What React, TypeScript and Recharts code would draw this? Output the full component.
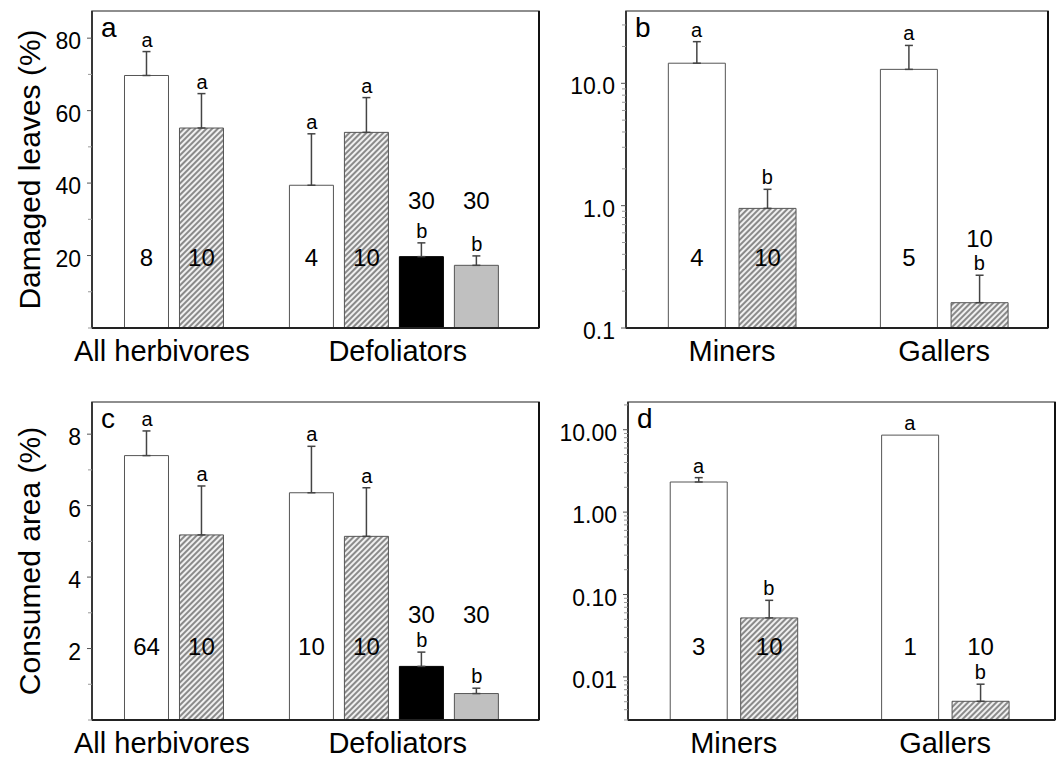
import React from 'react';
import { ComposedChart, Bar, Line, XAxis, YAxis, ErrorBar, LabelList, Cell, ReferenceArea, ReferenceLine } from 'recharts';

const FONT = '"Liberation Sans", Arial, Helvetica, sans-serif';

// ---------- shared categories ----------
const kindsAC = ['open', 'hatched', 'open', 'hatched', 'black', 'grey'];
const posAC = [1, 2, 4, 5, 6, 7];
const groupLabelsAC = ['All herbivores', 'Defoliators'];
const groupTicksAC = [1.27, 5.56];

const kindsBD = ['open', 'hatched', 'open', 'hatched'];
const posBD = [1, 2, 4, 5];
const groupLabelsBD = ['Miners', 'Gallers'];
const groupTicksBD = [1.5, 4.5];

const lettersAC = ['a', 'a', 'a', 'a', 'b', 'b'];
const lettersBD = ['a', 'b', 'a', 'b'];

// ---------- panel a: damaged leaves (%) ----------
const damagedMean = [69.7, 55.2, 39.4, 54.0, 19.7, 17.3];
const damagedSE = [6.6, 9.5, 14.2, 9.6, 3.8, 2.6];
const damagedN = [8, 10, 4, 10, 30, 30];
const damagedTicks = [0, 10, 20, 30, 40, 50, 60, 70, 80];
const damagedMajor = [20, 40, 60, 80];

// ---------- panel b: damaged leaves, miners / gallers (log) ----------
const damagedGuildMean = [14.6, 0.95, 13.0, 0.161];
const damagedGuildSE = [7.3, 0.41, 7.4, 0.109];
const damagedGuildN = [4, 10, 5, 10];
const damagedGuildTicks = [
  0.1, 0.2, 0.3, 0.4, 0.5, 0.6, 0.7, 0.8, 0.9,
  1, 2, 3, 4, 5, 6, 7, 8, 9,
  10, 20, 30,
];
const damagedGuildMajor = [0.1, 1, 10];

// ---------- panel c: consumed area (%) ----------
const consumedMean = [7.4, 5.18, 6.36, 5.14, 1.5, 0.74];
const consumedSE = [0.69, 1.37, 1.3, 1.36, 0.4, 0.15];
const consumedN = [64, 10, 10, 10, 30, 30];
const consumedTicks = [0, 1, 2, 3, 4, 5, 6, 7, 8];
const consumedMajor = [2, 4, 6, 8];

// ---------- panel d: consumed area, miners / gallers (log) ----------
const consumedGuildMean = [2.32, 0.052, 8.6, 0.00506];
const consumedGuildSE: (number | null)[] = [0.3, 0.033, null, 0.0031];
const consumedGuildN = [3, 10, 1, 10];
const consumedGuildTicks = [
  0.003, 0.004, 0.005, 0.006, 0.007, 0.008, 0.009,
  0.01, 0.02, 0.03, 0.04, 0.05, 0.06, 0.07, 0.08, 0.09,
  0.1, 0.2, 0.3, 0.4, 0.5, 0.6, 0.7, 0.8, 0.9,
  1, 2, 3, 4, 5, 6, 7, 8, 9,
  10, 20,
];
const consumedGuildMajor = [0.01, 0.1, 1, 10];

// ---------- styles ----------
const fillFor = (kind: string, id: string) => {
  if (kind === 'hatched') return `url(#hatch-${id})`;
  if (kind === 'black') return '#000000';
  if (kind === 'grey') return '#c0c0c0';
  return '#ffffff';
};

type Row = { x: number; mean: number; err: [number, number] | null; top: number; letter: string; n: number; kind: string };

const buildRows = (pos: number[], mean: number[], se: (number | null)[], letters: string[], n: number[], kinds: string[]): Row[] =>
  pos.map((x, i) => ({
    x,
    mean: mean[i],
    err: se[i] == null ? null : [0, se[i] as number],
    top: mean[i] + (se[i] ?? 0),
    letter: letters[i],
    n: n[i],
    kind: kinds[i],
  }));

type Panel = {
  id: string;
  letter: string;
  title?: string;
  rows: Row[];
  left: number; top: number; width: number; height: number;
  margin: { top: number; right: number; bottom: number; left: number };
  yWidth: number; xHeight: number;
  xDomain: [number, number];
  yDomain: [number, number];
  log: boolean;
  yTicks: number[]; yMajor: number[];
  fmt: (v: number) => string;
  groupTicks: number[]; groupLabels: string[];
  barSize: number;
  raised: number[]; raisedOffset: number; inBarOffset: number;
};

const TICK_SIZE = 5;
const TICK_MARGIN = 6;

const YTick = (props: any) => {
  const { x, y, payload, majors, fmt } = props;
  const v = payload.value;
  const major = majors.includes(v);
  const ax = x + TICK_MARGIN + TICK_SIZE;
  return (
    <g>
      <line x1={major ? ax - TICK_SIZE : ax - 4} x2={ax} y1={y} y2={y} stroke={major ? '#555' : '#999'} strokeWidth={1} />
      {major && (
        <text x={x} y={y} dy={3} textAnchor="end" dominantBaseline="central" fontSize={23} fill="#000" fontFamily={FONT}>
          {fmt(v)}
        </text>
      )}
    </g>
  );
};

const PanelChart = ({ p }: { p: Panel }) => {
  const groupName = (v: number) => {
    const i = p.groupTicks.indexOf(v);
    return i >= 0 ? p.groupLabels[i] : '';
  };

  const countLabel = (props: any) => {
    const vb = props.viewBox || {};
    const x = props.x ?? vb.x;
    const y = props.y ?? vb.y;
    const w = props.width ?? vb.width;
    const h = props.height ?? vb.height;
    const idx = props.index;
    if (x == null || y == null) return null;
    const bottom = Math.max(y, y + h);
    const raised = p.raised.includes(idx);
    const ty = bottom - (raised ? p.raisedOffset : p.inBarOffset);
    return (
      <text x={x + w / 2} y={ty} textAnchor="middle" dominantBaseline="central" fontSize={24} fill="#000" fontFamily={FONT}>
        {props.value}
      </text>
    );
  };

  const letterLabel = (props: any) => {
    const vb = props.viewBox || {};
    const x = props.x ?? vb.x;
    const y = props.y ?? vb.y;
    if (props.value == null || x == null || y == null) return null;
    return (
      <text x={x} y={y - 5} textAnchor="middle" fontSize={20} fill="#000" fontFamily={FONT}>
        {props.value}
      </text>
    );
  };

  const axisLabel = (props: any) => {
    const vb = props.viewBox || {};
    const { x, y, width, height } = vb;
    return (
      <g>
        {p.title && (
          <text
            transform={`translate(${x + 29}, ${y + height / 2}) rotate(-90)`}
            textAnchor="middle"
            dominantBaseline="central"
            fontSize={30}
            fill="#000"
            fontFamily={FONT}
          >
            {p.title}
          </text>
        )}
        <text x={x + width + 9} y={y + 26} fontSize={28} fill="#000" fontFamily={FONT}>
          {p.letter}
        </text>
      </g>
    );
  };

  return (
    <div style={{ position: 'absolute', left: p.left, top: p.top, width: p.width, height: p.height }}>
      <ComposedChart width={p.width} height={p.height} data={p.rows} margin={p.margin}>
        <defs>
          <pattern id={`hatch-${p.id}`} patternUnits="userSpaceOnUse" width={4} height={4} patternTransform="rotate(45)">
            <rect x={0} y={0} width={4} height={4} fill="#f0f0f0" />
            <line x1={1} y1={0} x2={1} y2={4} stroke="#8a8a8a" strokeWidth={2} />
          </pattern>
        </defs>
        <XAxis
          dataKey="x"
          type="number"
          domain={p.xDomain}
          allowDataOverflow
          ticks={p.groupTicks}
          interval={0}
          tickFormatter={groupName}
          tickLine={false}
          tickSize={6}
          tickMargin={6}
          height={p.xHeight}
          axisLine={{ stroke: '#222', strokeWidth: 2 }}
          tick={{ fontSize: 29, fill: '#000', fontFamily: FONT }}
        />
        <YAxis
          type="number"
          scale={p.log ? 'log' : 'linear'}
          domain={p.yDomain}
          allowDataOverflow
          ticks={p.yTicks}
          interval={0}
          width={p.yWidth}
          tickSize={TICK_SIZE}
          tickMargin={TICK_MARGIN}
          tickLine={false}
          tick={<YTick majors={p.yMajor} fmt={p.fmt} />}
          axisLine={{ stroke: '#333', strokeWidth: 1.5 }}
          label={axisLabel}
        />
        <ReferenceArea
          x1={p.xDomain[0]}
          x2={p.xDomain[1]}
          y1={p.yDomain[0]}
          y2={p.yDomain[1]}
          fill="none"
          fillOpacity={0}
          stroke="#6a6a6a"
          strokeWidth={1.5}
          ifOverflow="visible"
        />
        <ReferenceLine x={p.xDomain[1]} stroke="#111" strokeWidth={2} ifOverflow="visible" />
        <ReferenceLine x={p.xDomain[0]} stroke="#333" strokeWidth={1.5} ifOverflow="visible" />
        <ReferenceLine y={p.yDomain[0]} stroke="#222" strokeWidth={2} ifOverflow="visible" />
        <Bar dataKey="mean" barSize={p.barSize} isAnimationActive={false} stroke="#555" strokeWidth={1}>
          {p.rows.map((r, i) => (
            <Cell key={i} fill={fillFor(r.kind, p.id)} stroke={r.kind === 'black' ? '#000' : '#555'} />
          ))}
          <ErrorBar dataKey="err" width={4} stroke="#444" strokeWidth={1.5} isAnimationActive={false} />
          <LabelList dataKey="n" content={countLabel} />
        </Bar>
        <Line
          dataKey="top"
          stroke="none"
          dot={false}
          activeDot={false}
          isAnimationActive={false}
          legendType="none"
        >
          <LabelList dataKey="letter" content={letterLabel} />
        </Line>
      </ComposedChart>
    </div>
  );
};

const panels: Panel[] = [
  {
    id: 'a', letter: 'a', title: 'Damaged leaves (%)',
    rows: buildRows(posAC, damagedMean, damagedSE, lettersAC, damagedN, kindsAC),
    left: 0, top: 0, width: 548, height: 380,
    margin: { top: 11, right: 9, bottom: 1, left: 0 },
    yWidth: 92, xHeight: 51,
    xDomain: [0, 8.13], yDomain: [0, 87.5], log: false,
    yTicks: damagedTicks, yMajor: damagedMajor, fmt: (v) => String(v),
    groupTicks: groupTicksAC, groupLabels: groupLabelsAC,
    barSize: 44, raised: [4, 5], raisedOffset: 128, inBarOffset: 71,
  },
  {
    id: 'b', letter: 'b',
    rows: buildRows(posBD, damagedGuildMean, damagedGuildSE, lettersBD, damagedGuildN, kindsBD),
    left: 548, top: 0, width: 510, height: 380,
    margin: { top: 11, right: 10, bottom: 1, left: 0 },
    yWidth: 78, xHeight: 51,
    xDomain: [0, 5.97], yDomain: [0.1, 39], log: true,
    yTicks: damagedGuildTicks, yMajor: damagedGuildMajor, fmt: (v) => v.toFixed(1),
    groupTicks: groupTicksBD, groupLabels: groupLabelsBD,
    barSize: 57, raised: [3], raisedOffset: 90, inBarOffset: 71,
  },
  {
    id: 'c', letter: 'c', title: 'Consumed area (%)',
    rows: buildRows(posAC, consumedMean, consumedSE, lettersAC, consumedN, kindsAC),
    left: 0, top: 380, width: 548, height: 379,
    margin: { top: 22, right: 9, bottom: 1, left: 0 },
    yWidth: 92, xHeight: 38,
    xDomain: [0, 8.13], yDomain: [0, 8.9], log: false,
    yTicks: consumedTicks, yMajor: consumedMajor, fmt: (v) => String(v),
    groupTicks: groupTicksAC, groupLabels: groupLabelsAC,
    barSize: 44, raised: [4, 5], raisedOffset: 106, inBarOffset: 74,
  },
  {
    id: 'd', letter: 'd',
    rows: buildRows(posBD, consumedGuildMean, consumedGuildSE, lettersBD, consumedGuildN, kindsBD),
    left: 548, top: 380, width: 510, height: 379,
    margin: { top: 22, right: 3, bottom: 1, left: 0 },
    yWidth: 80, xHeight: 38,
    xDomain: [0, 6.06], yDomain: [0.003, 21.7], log: true,
    yTicks: consumedGuildTicks, yMajor: consumedGuildMajor, fmt: (v) => v.toFixed(2),
    groupTicks: groupTicksBD, groupLabels: groupLabelsBD,
    barSize: 57, raised: [3], raisedOffset: 74, inBarOffset: 74,
  },
];

export default function App() {
  return (
    <div style={{ position: 'absolute', left: 0, top: 0, width: 1058, height: 759, background: '#fff', fontFamily: FONT }}>
      {panels.map((p) => (
        <PanelChart key={p.id} p={p} />
      ))}
    </div>
  );
}
